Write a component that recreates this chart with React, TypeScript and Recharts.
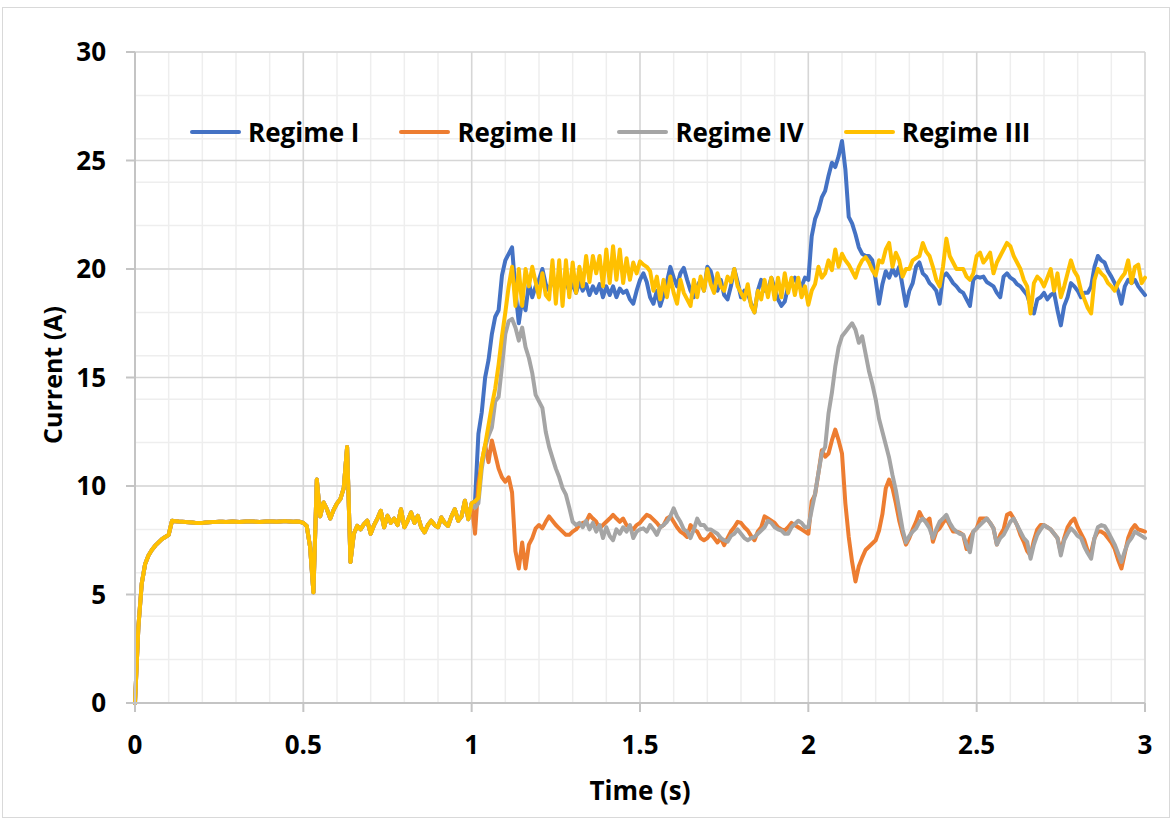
import { LineChart, Line, XAxis, YAxis, CartesianGrid } from 'recharts'

const FONT = '"Open Sans", sans-serif'

// traces are sampled every 10 ms
const STEP_MS = 10

// 0.00 - 1.00 s: every regime follows the same start-up trace
const startup = [
  0, 3.5, 5.5, 6.4, 6.8, 7.05, 7.25, 7.4, 7.55, 7.65,
  7.75, 8.4, 8.38, 8.36, 8.35, 8.34, 8.33, 8.32, 8.3, 8.29,
  8.3, 8.32, 8.33, 8.34, 8.34, 8.35, 8.35, 8.34, 8.35, 8.36,
  8.35, 8.34, 8.35, 8.36, 8.37, 8.36, 8.35, 8.34, 8.35, 8.36,
  8.37, 8.36, 8.35, 8.36, 8.37, 8.37, 8.36, 8.35, 8.36, 8.35,
  8.3, 8.16, 7.2, 5.1, 10.3, 8.6, 9.24, 8.93, 8.5, 8.9,
  9.2, 9.4, 9.9, 11.8, 6.5, 7.8, 8.16, 8.0, 8.24, 8.4,
  7.8, 8.2, 8.5, 8.86, 8.1, 8.63, 8.3, 8.5, 8.2, 8.93,
  8.1, 8.4, 8.78, 8.3, 8.63, 8.1, 7.86, 8.2, 8.4, 8.2,
  8.1, 8.55, 8.3, 8.16, 8.6, 8.93, 8.4, 8.6, 9.32, 8.47,
  9.2,
]

// 1.01 - 3.00 s
const regimeI = [
  9.3, 12.4, 13.4, 15.0, 15.8, 17.0, 17.8, 18.1, 19.7, 20.4,
  20.7, 21.0, 19.0, 17.5, 18.6, 18.1, 19.35, 18.7, 19.2, 19.5,
  20.0, 19.3, 19.0, 19.5, 19.2, 19.6, 19.1, 19.4, 19.0, 19.3,
  18.9, 19.4, 19.0, 19.3, 18.8, 19.2, 18.9, 19.3, 18.7, 19.2,
  18.8, 19.2, 18.7, 19.1, 18.9, 19.0, 18.6, 18.4, 19.0, 19.5,
  19.8, 19.4, 18.7, 18.4, 19.0, 18.3, 18.8, 19.4, 20.1, 19.6,
  19.2, 19.8, 20.05, 19.5, 19.0, 18.7, 19.2, 19.5, 19.0, 20.1,
  19.9, 19.3, 19.0, 19.5, 18.8, 18.6, 19.2, 20.0, 19.4, 18.7,
  19.0, 18.9, 18.4, 18.0, 19.0, 19.5, 19.0, 19.0, 19.6, 19.1,
  18.6, 18.3, 18.5, 19.2, 19.4, 19.6, 19.2, 19.2, 19.6, 19.5,
  21.5, 22.3, 22.7, 23.3, 23.6, 24.3, 24.9, 24.7, 25.2, 25.9,
  24.6, 22.4, 22.1, 21.6, 21.0, 20.7, 20.6, 20.6, 20.4, 19.5,
  18.4, 19.3, 19.9, 19.6, 20.0, 19.7, 20.1, 19.2, 18.3, 19.0,
  19.35, 20.1, 20.3, 19.8, 19.65, 19.35, 19.2, 19.0, 18.4, 19.65,
  19.8, 19.6, 19.35, 19.2, 19.0, 18.9, 18.6, 18.3, 19.5, 19.65,
  19.6, 19.65, 19.4, 19.3, 19.2, 18.9, 18.7, 19.65, 19.8, 19.6,
  19.5, 19.3, 19.2, 19.0, 18.8, 18.3, 17.95, 18.6, 18.7, 18.9,
  18.6, 18.8, 18.9, 18.1, 17.4, 18.3, 18.7, 19.35, 19.2, 19.0,
  18.7, 18.9, 18.9, 19.2, 20.1, 20.6, 20.4, 20.3, 19.9, 19.65,
  19.35, 19.0, 18.4, 19.2, 19.5, 19.35, 19.5, 19.2, 19.0, 18.8,
]

const regimeII = [
  7.8, 10.1, 11.1, 11.9, 11.1, 12.1, 11.45, 10.8, 10.4, 10.2,
  10.4, 9.7, 7.0, 6.2, 7.4, 6.2, 7.3, 7.6, 8.05, 8.2,
  8.05, 8.35, 8.6, 8.4, 8.2, 8.05, 7.9, 7.75, 7.75, 7.9,
  8.0, 8.2, 8.3, 8.35, 8.67, 8.5, 8.35, 8.05, 8.2, 8.35,
  8.5, 8.67, 8.5, 8.35, 8.5, 8.2, 8.1, 8.0, 8.2, 8.3,
  8.5, 8.67, 8.6, 8.45, 8.3, 8.1, 8.2, 8.5, 8.6, 8.35,
  8.1, 7.9, 7.8, 7.65, 8.2, 8.0, 7.9, 7.6, 7.5, 7.6,
  7.8, 7.6, 7.4, 7.6, 7.27, 7.6, 7.9, 8.1, 8.35, 8.3,
  8.1, 7.95, 7.7, 7.5, 7.9, 8.1, 8.6, 8.5, 8.4, 8.3,
  8.1, 8.0, 7.95, 8.1, 8.3, 8.2, 8.1, 8.0, 7.9, 7.8,
  9.3, 9.6, 10.6, 11.65, 11.35, 11.5, 12.1, 12.6, 12.1, 11.5,
  9.2, 7.65, 6.5, 5.6, 6.3, 6.7, 7.05, 7.2, 7.35, 7.5,
  7.95, 8.7, 9.9, 10.3, 9.9, 9.2, 8.4, 7.8, 7.3, 7.6,
  8.0, 8.35, 8.8, 8.5, 8.35, 8.5, 7.43, 7.9, 8.05, 8.3,
  8.5, 8.2, 7.9, 7.9, 7.85, 7.75, 7.1, 7.6, 7.9, 8.05,
  8.5, 8.5, 8.5, 8.3, 8.05, 7.3, 7.75, 8.0, 8.67, 8.75,
  8.5, 8.2, 7.75, 7.43, 7.0, 6.8, 7.5, 8.0, 8.2, 8.2,
  8.1, 8.0, 7.8, 7.6, 6.95, 7.6, 8.1, 8.35, 8.5, 8.1,
  7.8, 7.5, 7.0, 6.95, 7.6, 7.9, 7.9, 7.8, 7.6, 7.4,
  7.1, 6.6, 6.2, 6.9, 7.6, 8.0, 8.2, 8.0, 7.95, 7.9,
]

const regimeIII = [
  9.3, 9.45, 11.1, 11.9, 12.8, 13.7, 14.5, 15.6, 16.9, 18.0,
  19.2, 20.1, 18.3, 20.0, 18.3, 20.0, 19.2, 20.1, 19.4, 18.7,
  19.8, 18.8, 18.6, 20.4, 18.4, 20.4, 18.3, 20.4, 18.7, 20.3,
  18.9, 20.1, 19.2, 20.6, 19.4, 20.6, 19.8, 20.6, 19.2, 20.9,
  19.35, 21.05, 19.5, 20.9, 19.35, 20.5, 19.5, 20.3, 19.8, 20.35,
  20.2, 20.1, 19.9, 19.0, 19.65, 18.6, 19.5, 18.7, 19.65, 18.9,
  18.4, 19.5, 18.9, 18.6, 18.3, 19.5, 18.7, 19.65, 19.0, 20.0,
  19.3, 18.9, 19.8, 19.2, 19.0, 19.65, 19.4, 20.0, 19.2, 18.9,
  18.6, 19.3, 18.3, 18.0, 19.0, 18.6, 19.5, 18.7, 19.6, 18.6,
  19.6, 18.7, 19.8, 18.9, 19.6, 18.8, 19.6, 18.7, 19.2, 18.35,
  19.0, 19.3, 20.1, 19.6, 19.8, 20.4, 19.95, 20.9, 20.1, 20.7,
  20.4, 20.2, 19.9, 19.6, 20.1, 20.4, 20.55, 20.3, 19.95, 19.7,
  20.4, 20.3, 20.9, 21.2, 20.1, 20.75, 20.4, 19.65, 20.0, 20.0,
  20.4, 20.5, 20.6, 21.2, 20.8, 20.6, 20.1, 19.5, 19.2, 20.1,
  21.4, 20.6, 20.3, 20.0, 20.0, 20.0, 19.65, 19.5, 19.8, 20.6,
  20.75, 20.3, 20.5, 20.75, 19.8, 20.3, 20.6, 20.9, 21.2, 21.05,
  20.6, 20.3, 20.0, 19.5, 19.2, 17.95, 19.35, 19.65, 19.5, 19.2,
  19.6, 20.0, 19.0, 19.8, 18.7, 19.2, 19.8, 20.4, 19.9, 19.65,
  19.0, 18.6, 18.2, 17.95, 19.5, 20.0, 19.8, 19.65, 19.35, 19.2,
  19.0, 19.35, 19.6, 19.8, 20.4, 19.35, 20.1, 20.2, 19.35, 19.6,
]

const regimeIV = [
  9.0, 9.2, 10.8, 11.8, 12.3, 12.7, 13.9, 14.1, 15.5, 17.0,
  17.6, 17.7, 17.3, 16.7, 17.3, 16.4, 15.9, 15.2, 14.2, 13.9,
  13.6, 12.5, 11.8, 11.3, 10.8, 10.4, 9.9, 9.6, 9.0, 8.35,
  8.2, 8.3, 8.1, 8.4, 8.0, 8.3, 7.9, 8.2, 7.6, 8.1,
  7.7, 7.5, 8.0, 7.8, 8.1, 7.9, 8.2, 7.6, 7.9, 8.0,
  8.05, 7.9, 8.2, 8.0, 7.75, 8.1, 8.2, 8.35, 8.6, 8.97,
  8.6, 8.35, 8.0, 7.9, 7.6, 8.0, 8.5, 8.2, 8.2, 8.0,
  8.0, 7.9, 7.8, 7.6, 7.5, 7.43, 7.7, 7.8, 8.0, 7.8,
  7.6, 7.5, 7.6, 7.65, 7.8, 7.95, 8.1, 8.4, 8.3, 8.1,
  8.0, 7.95, 7.8, 7.8, 8.1, 8.25, 8.4, 8.3, 8.1, 8.1,
  8.9, 9.65, 10.6, 11.5, 11.8, 13.35, 14.3, 15.5, 16.4, 16.9,
  17.1, 17.3, 17.5, 17.2, 16.6, 16.9, 16.1, 15.3, 14.7, 14.0,
  13.1, 12.5, 11.9, 11.3, 10.5, 9.8, 8.9, 8.0, 7.4, 7.7,
  7.9, 8.05, 8.35, 8.5, 8.3, 8.05, 7.6, 8.0, 8.35, 8.5,
  8.67, 8.3, 8.05, 7.9, 7.8, 7.75, 7.3, 6.95, 7.9, 8.05,
  8.2, 8.35, 8.5, 8.3, 8.05, 7.3, 7.6, 7.75, 8.05, 8.35,
  8.5, 8.2, 7.9, 7.6, 7.43, 6.65, 7.3, 7.75, 8.0, 8.2,
  8.1, 8.0, 7.8, 7.6, 6.8, 7.5, 7.8, 8.05, 7.9, 7.7,
  7.6, 7.2, 6.9, 6.65, 7.6, 8.1, 8.2, 8.15, 7.9, 7.6,
  7.3, 6.9, 6.5, 7.0, 7.4, 7.6, 7.9, 7.8, 7.7, 7.6,
]

const xTicks = [0, 0.5, 1, 1.5, 2, 2.5, 3]
const yTicks = [0, 5, 10, 15, 20, 25, 30]
const xMinor = Array.from({ length: 31 }, (_, i) => i / 10)
const yMinor = Array.from({ length: 31 }, (_, i) => i)

// legend order = draw order (last one ends up on top)
const series = [
  { key: 'r1', name: 'Regime I', color: '#4472C4' },
  { key: 'r2', name: 'Regime II', color: '#ED7D31' },
  { key: 'r4', name: 'Regime IV', color: '#A5A5A5' },
  { key: 'r3', name: 'Regime III', color: '#FFC000' },
]

const toSec = (i: number) => (i * STEP_MS) / 1000

const data = [
  ...startup.map((v, i) => ({ t: toSec(i), r1: v, r2: v, r3: v, r4: v })),
  ...regimeI.map((v, i) => ({
    t: toSec(startup.length + i),
    r1: v,
    r2: regimeII[i],
    r3: regimeIII[i],
    r4: regimeIV[i],
  })),
]

const tickStyle = { fill: '#000', fontSize: 26, fontWeight: 700, fontFamily: FONT }
const axisStroke = { stroke: '#c4c4c4', strokeWidth: 2 }

export default function App() {
  return (
    <div style={{ position: 'absolute', left: 0, top: 0, width: 1173, height: 819, background: '#fff' }}>
      <div
        style={{
          position: 'absolute',
          left: 2,
          top: 7,
          width: 1166,
          height: 809,
          border: '1px solid #d9d9d9',
        }}
      />
      <LineChart
        width={1173}
        height={819}
        data={data}
        margin={{ top: 52, right: 28, bottom: 56, left: 0 }}
        style={{ position: 'absolute', left: 0, top: 0 }}
      >
        <CartesianGrid stroke="#eeeeee" strokeWidth={1.5} horizontalValues={yMinor} verticalValues={xMinor} />
        <CartesianGrid stroke="#d6d6d6" strokeWidth={1.5} horizontalValues={yTicks} verticalValues={xTicks} />
        <XAxis
          dataKey="t"
          type="number"
          domain={[0, 3]}
          ticks={xTicks}
          height={60}
          tick={tickStyle}
          tickSize={9}
          tickMargin={24}
          axisLine={axisStroke}
          tickLine={axisStroke}
        />
        <YAxis
          type="number"
          domain={[0, 30]}
          ticks={yTicks}
          width={135}
          tick={tickStyle}
          tickSize={9}
          tickMargin={20}
          axisLine={axisStroke}
          tickLine={axisStroke}
        />
        {series.map((s) => (
          <Line
            key={s.key}
            type="linear"
            dataKey={s.key}
            name={s.name}
            stroke={s.color}
            strokeWidth={4}
            strokeLinejoin="round"
            strokeLinecap="round"
            dot={false}
            activeDot={false}
            isAnimationActive={false}
          />
        ))}
      </LineChart>

      {/* legend sits inside the plot, as in the original */}
      <div
        style={{
          position: 'absolute',
          left: 190,
          top: 114,
          height: 36,
          display: 'flex',
          alignItems: 'center',
          fontFamily: FONT,
          fontWeight: 700,
          fontSize: 26,
          color: '#000',
        }}
      >
        {series.map((s) => (
          <div key={s.key} style={{ display: 'flex', alignItems: 'center', marginRight: 40 }}>
            <div style={{ width: 51, height: 4, borderRadius: 2, background: s.color, marginRight: 7 }} />
            <span style={{ whiteSpace: 'nowrap' }}>{s.name}</span>
          </div>
        ))}
      </div>

      <div
        style={{
          position: 'absolute',
          left: 135,
          width: 1010,
          top: 775,
          textAlign: 'center',
          fontFamily: FONT,
          fontWeight: 700,
          fontSize: 26,
          lineHeight: '30px',
        }}
      >
        Time (s)
      </div>
      <div
        style={{
          position: 'absolute',
          left: 52,
          top: 375,
          transform: 'translate(-50%, -50%) rotate(-90deg)',
          whiteSpace: 'nowrap',
          fontFamily: FONT,
          fontWeight: 700,
          fontSize: 25,
          lineHeight: '30px',
        }}
      >
        Current (A)
      </div>
    </div>
  )
}
